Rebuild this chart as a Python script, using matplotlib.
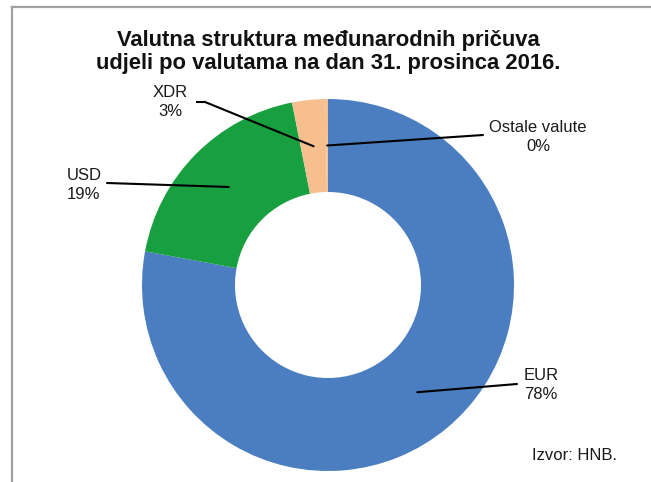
import numpy as np
import matplotlib
matplotlib.use("Agg")
import matplotlib.pyplot as plt
from matplotlib.lines import Line2D

plt.rcParams['font.family'] = ['Liberation Sans', 'DejaVu Sans']

title = "Valutna struktura međunarodnih pričuva\nudjeli po valutama na dan 31. prosinca 2016."
categories = ["EUR", "USD", "XDR", "Ostale valute"]
values = [77.9, 19.0, 2.9, 0.2]
colors = ["#4A7EC0", "#18A040", "#F8BF8E", "#F8BF8E"]
source = "Izvor: HNB."

W, H = 651, 482
fig = plt.figure(figsize=(W / 100, H / 100), dpi=100)
fig.patch.set_facecolor("white")

def fy(y):
    return H - y

cx, cy, R = 328, 285, 186
ax = fig.add_axes([(cx - R) / W, (H - cy - R) / H, 2 * R / W, 2 * R / H])
wedges, _ = ax.pie(values, colors=colors, startangle=90, counterclock=False,
                   radius=1.0, wedgeprops=dict(width=0.5, linewidth=0))
ax.set_xlim(-1, 1)
ax.set_ylim(-1, 1)
ax.set_aspect('equal')
ax.axis('off')

# label positions (text center, line end) in pixels from top-left
label_pos = {
    "EUR": ((541, 385), (517, 384), None),
    "USD": ((84, 185), (107, 183), None),
    "XDR": ((170, 102), (205, 102), (197, 102)),
    "Ostale valute": ((538, 137), (483, 135), None),
}

for w, cat, v in zip(wedges, categories, values):
    ang = np.deg2rad((w.theta1 + w.theta2) / 2)
    pt = (0.75 * np.cos(ang), 0.75 * np.sin(ang))
    (tx, ty), (lx, ly), extra = label_pos[cat]
    ax.annotate("", xy=pt, xycoords='data', xytext=(lx, fy(ly)),
                textcoords='figure pixels',
                arrowprops=dict(arrowstyle='-', color='black', lw=1.5,
                                shrinkA=0, shrinkB=0))
    if extra is not None:
        fig.add_artist(Line2D([extra[0] / W, lx / W], [fy(extra[1]) / H, fy(ly) / H],
                              color='black', lw=1.5, transform=fig.transFigure))
    fig.text(tx / W, fy(ty) / H, f"{cat}\n{round(v)}%", ha='center', va='center',
             fontsize=12, color='#1a1a1a', linespacing=1.3)

fig.text(328 / W, fy(52) / H, title, ha='center', va='center', fontsize=15.8,
         fontweight='bold', color='#111111', linespacing=1.17)

fig.text(575 / W, fy(455) / H, source, ha='center', va='center', fontsize=12,
         color='#1a1a1a')

# frame lines (top and left)
fig.add_artist(Line2D([12 / W, 1.0], [fy(7) / H, fy(7) / H], color='#A0A0A0', lw=1.6,
                      transform=fig.transFigure))
fig.add_artist(Line2D([12 / W, 12 / W], [fy(7) / H, 0.0], color='#A0A0A0', lw=1.6,
                      transform=fig.transFigure))

fig.savefig("out.png", dpi=100, facecolor='white')
